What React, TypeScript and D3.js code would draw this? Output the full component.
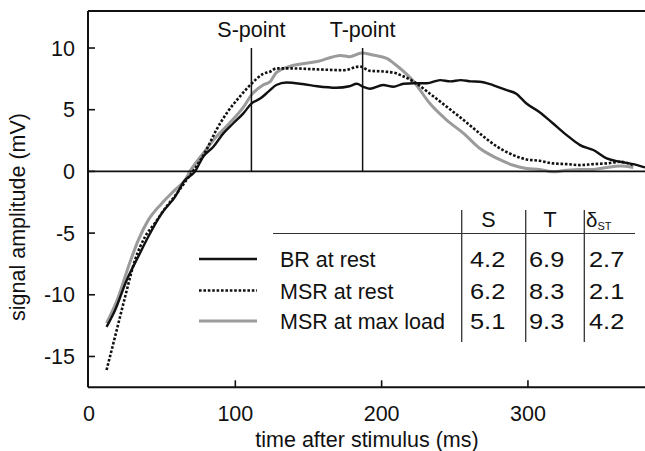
import React from "react";
import * as d3 from "d3";

// ---- data ----
const brTime = [12, 17.8, 25.8, 33.7, 40.5, 49.7, 58.8, 65, 72.5, 78, 85, 91.8, 98.6, 105.5, 111, 117, 123, 128, 135, 146, 156, 169, 178, 183, 187.5, 192, 201, 208, 215, 222, 231, 240, 247, 254, 261, 267, 276, 285, 292, 299, 308, 317, 326.5, 335.6, 344.7, 353.8, 363, 372, 380];
const brValue = [-12.6, -11.25, -8.8, -6.9, -5.3, -3.4, -2.06, -0.8, 0, 1.18, 2.0, 3.08, 3.9, 4.7, 5.5, 5.9, 6.5, 7.0, 7.2, 7.08, 6.9, 6.78, 6.9, 7.1, 6.86, 6.7, 7.0, 6.86, 7.1, 7.14, 7.14, 7.4, 7.3, 7.4, 7.3, 7.27, 7.0, 6.6, 6.3, 5.5, 4.8, 3.9, 2.94, 2.13, 1.73, 1.05, 0.78, 0.59, 0.32];

const msrRestTime = [12, 17.8, 24.6, 31.4, 38.3, 45, 52, 60, 66, 71, 80, 87, 94, 103, 111, 119, 124, 128, 137, 156, 174, 185, 192, 201, 210, 213, 222, 233, 244.5, 256, 267, 279, 290, 299, 308, 317, 326.5, 335.6, 344.7, 354, 363, 372];
const msrRestValue = [-16.1, -13.4, -10.2, -7.2, -5.3, -4.2, -3.0, -1.8, -0.8, 0, 1.7, 3.35, 4.7, 6.05, 7.1, 7.9, 8.1, 8.35, 8.35, 8.27, 8.2, 8.5, 8.15, 8.1, 7.95, 7.8, 7.27, 6.3, 5.24, 4.16, 3.08, 2.0, 1.32, 0.97, 0.86, 0.65, 0.59, 0.51, 0.59, 0.65, 0.78, 0.51];

const msrLoadTime = [12, 20, 27, 33.7, 40.5, 49.7, 58.8, 65.6, 69, 78, 87, 96, 105.5, 111, 119, 124, 128, 137, 156, 172, 178, 186.4, 194, 203.5, 210, 222, 233, 244.5, 256, 267, 279, 290, 299, 308, 317, 326.5, 335.6, 344.7, 354, 363, 372];
const msrLoadValue = [-12.3, -10.2, -7.7, -5.57, -3.95, -2.6, -1.5, -0.7, 0, 1.46, 2.8, 3.9, 5.2, 6.2, 7.0, 7.3, 8.0, 8.5, 8.9, 9.4, 9.3, 9.6, 9.43, 9.16, 8.6, 7.27, 5.5, 4.16, 3.08, 1.87, 1.05, 0.5, 0.24, 0.16, -0.03, 0.1, 0.16, 0.16, 0.32, 0.43, 0.32];

const xTicks = [0, 100, 200, 300];
const yTicks = [10, 5, 0, -5, -10, -15];
const markerTimes = [111, 187];
const markerLabels = ["S-point", "T-point"];

const legendLabels = ["BR at rest", "MSR at rest", "MSR at max load"];
const tableHeaders = ["S", "T"];
const colS = ["4.2", "6.2", "5.1"];
const colT = ["6.9", "8.3", "9.3"];
const colDelta = ["2.7", "2.1", "4.2"];

const W = 645;
const H = 451;
const FONT = "'Liberation Sans', Arial, Helvetica, sans-serif";
const FS = 21.5;

export default function App() {
  const x = d3.scaleLinear().domain([0, 380]).range([89, 645]);
  const y = d3.scaleLinear().domain([-17.5, 13]).range([387.3, 11]);

  const mk = (ts: number[], vs: number[]) =>
    d3
      .line<number>()
      .x((_, i) => x(ts[i]))
      .y((v) => y(v))
      .curve(d3.curveMonotoneX)(vs) as string;

  const series = [
    { d: mk(msrLoadTime, msrLoadValue), stroke: "#9b9b9b", w: 3, dash: undefined },
    { d: mk(msrRestTime, msrRestValue), stroke: "#111", w: 2.6, dash: "2.6 1.8" },
    { d: mk(brTime, brValue), stroke: "#111", w: 2.4, dash: undefined },
  ];
  const legendStyles = [
    { stroke: "#111", w: 2.6, dash: undefined },
    { stroke: "#111", w: 2.6, dash: "2.6 1.8" },
    { stroke: "#9b9b9b", w: 3.2, dash: undefined },
  ];

  const x0 = x(0) - 1;
  const xR = W;
  const yTop = y(13);
  const yBot = y(-17.5);

  const rowBase = [267, 299, 329];
  const legendY = [259, 290.5, 321];
  const colX = [470, 529, 589];

  return (
    <div style={{ position: "absolute", left: 0, top: 0 }}>
      <svg width={W} height={H} style={{ display: "block", background: "#fff" }} fontFamily={FONT}>
        <rect x={0} y={0} width={W} height={H} fill="#fff" />
        {/* curves */}
        {series.map((s, i) => (
          <path key={i} d={s.d} fill="none" stroke={s.stroke} strokeWidth={s.w} strokeDasharray={s.dash} strokeLinejoin="round" />
        ))}
        {/* zero line */}
        <line x1={x0} x2={xR} y1={y(0)} y2={y(0)} stroke="#111" strokeWidth={1.6} />
        {/* S / T markers */}
        {markerTimes.map((t, i) => (
          <g key={i}>
            <line x1={x(t)} x2={x(t)} y1={y(10)} y2={y(0)} stroke="#111" strokeWidth={1.5} />
            <text x={x(t)} y={36.5} textAnchor="middle" fontSize={FS} fill="#111">
              {markerLabels[i]}
            </text>
          </g>
        ))}
        {/* frame */}
        <line x1={x0} x2={xR} y1={yTop} y2={yTop} stroke="#111" strokeWidth={2} />
        <line x1={x0} x2={x0} y1={yTop} y2={yBot} stroke="#111" strokeWidth={2} />
        <line x1={x0} x2={xR} y1={yBot} y2={yBot} stroke="#111" strokeWidth={2} />
        {/* y ticks */}
        {yTicks.map((v) => (
          <g key={v}>
            <line x1={x0} x2={x0 + 7} y1={y(v)} y2={y(v)} stroke="#111" strokeWidth={1.6} />
            <text x={75} y={y(v) + 7.5} textAnchor="end" fontSize={FS} fill="#111">
              {v}
            </text>
          </g>
        ))}
        {/* x ticks */}
        {xTicks.map((t) => (
          <g key={t}>
            {t > 0 && <line x1={x(t)} x2={x(t)} y1={yBot} y2={yBot - 7} stroke="#111" strokeWidth={1.6} />}
            <text x={x(t)} y={420.5} textAnchor="middle" fontSize={FS} fill="#111">
              {t}
            </text>
          </g>
        ))}
        {/* axis titles */}
        <text x={(x(0) + W) / 2} y={446.5} textAnchor="middle" fontSize={FS} fill="#111">
          time after stimulus (ms)
        </text>
        <text transform={`translate(25, 217) rotate(-90)`} textAnchor="middle" fontSize={FS} fill="#111">
          signal amplitude (mV)
        </text>
        {/* table */}
        <line x1={273} x2={635} y1={233.5} y2={233.5} stroke="#333" strokeWidth={1.2} />
        {[461.7, 525.7, 584.3].map((vx, i) => (
          <line key={i} x1={vx} x2={vx} y1={210} y2={342} stroke="#333" strokeWidth={1.3} />
        ))}
        {tableHeaders.map((h, i) => (
          <text key={h} x={[488.5, 550][i]} y={227} textAnchor="middle" fontSize={FS} fill="#111">
            {h}
          </text>
        ))}
        <text x={586} y={227} fontSize={20.5} fill="#111">
          δ<tspan fontSize={11} dy={3}>ST</tspan>
        </text>
        {legendLabels.map((lab, i) => {
          const st = legendStyles[i];
          return (
            <g key={lab}>
              <line x1={199} x2={257} y1={legendY[i]} y2={legendY[i]} stroke={st.stroke} strokeWidth={st.w} strokeDasharray={st.dash} />
              <text x={280} y={rowBase[i]} fontSize={FS} fill="#111">
                {lab}
              </text>
              {[colS[i], colT[i], colDelta[i]].map((val, j) => (
                <text key={j} transform={`translate(${colX[j]}, ${rowBase[i]}) scale(1.18,1)`} fontSize={FS} fill="#111">
                  {val}
                </text>
              ))}
            </g>
          );
        })}
      </svg>
    </div>
  );
}
